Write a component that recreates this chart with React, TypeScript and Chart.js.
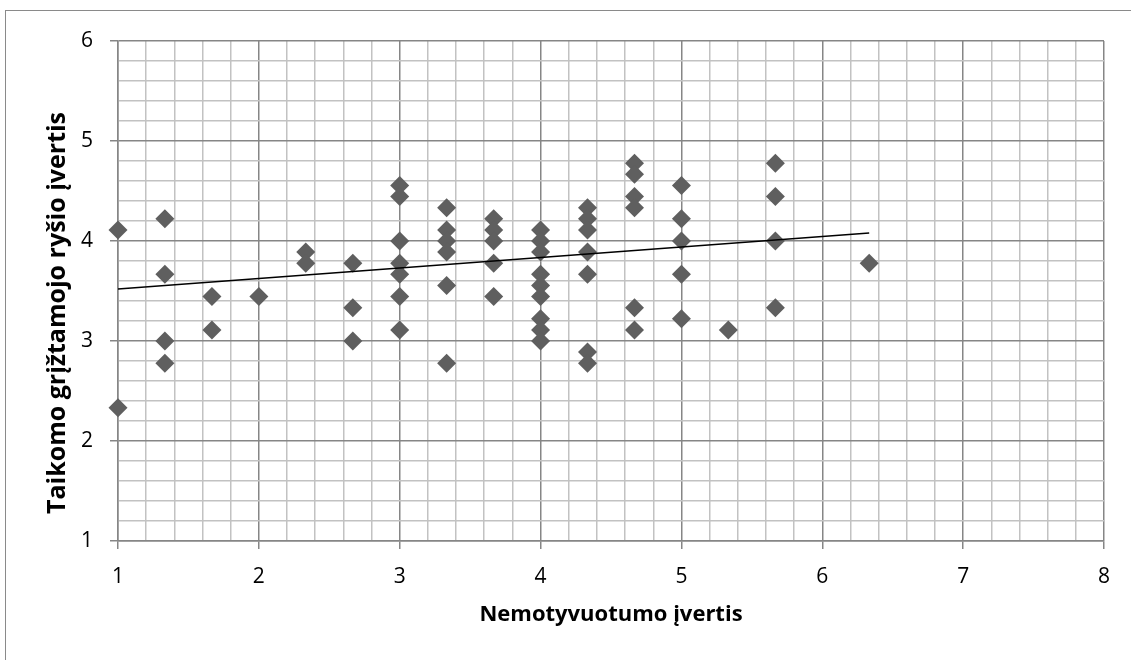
import React, { useEffect, useRef } from "react";
import { Chart, registerables } from "chart.js";

Chart.register(...registerables);

// Nemotyvuotumo įvertis (x) groups and the Taikomo grįžtamojo ryšio įvertis (y) values at each x
const xGroups = [1, 1.333, 1.667, 2, 2.333, 2.667, 3, 3.333, 3.667, 4, 4.333, 4.667, 5, 5.333, 5.667, 6.333];
const yByGroup = [
  [4.111, 2.333],
  [4.222, 3.667, 3.0, 2.778],
  [3.444, 3.111],
  [3.444],
  [3.889, 3.778],
  [3.778, 3.333, 3.0],
  [4.556, 4.444, 4.0, 3.778, 3.667, 3.444, 3.111],
  [4.333, 4.111, 4.0, 3.889, 3.556, 2.778],
  [4.222, 4.111, 4.0, 3.778, 3.444],
  [4.111, 4.0, 3.889, 3.667, 3.556, 3.444, 3.222, 3.111, 3.0],
  [4.333, 4.222, 4.111, 3.889, 3.667, 2.889, 2.778],
  [4.778, 4.667, 4.444, 4.333, 3.333, 3.111],
  [4.556, 4.222, 4.0, 3.667, 3.222],
  [3.111],
  [4.778, 4.444, 4.0, 3.333],
  [3.778],
];

// Linear trend line endpoints
const trendX = [1, 6.333];
const trendY = [3.52, 4.08];

// Axes
const xMin = 1, xMax = 8;
const yMin = 1, yMax = 6;
const gridStep = 0.2;

const X_TITLE = "Nemotyvuotumo įvertis";
const Y_TITLE = "Taikomo grįžtamojo ryšio įvertis";

const MAJOR = "#868686";
const MINOR = "#c2c2c2";
const FONT = "'Open Sans'";

const isMajor = (v: number) => Math.abs(v - Math.round(v)) < 1e-6;

const yTitlePlugin = {
  id: "yTitleCustom",
  afterDraw(chart: any) {
    const { ctx, chartArea } = chart;
    ctx.save();
    ctx.translate(chartArea.left - 53, (chartArea.top + chartArea.bottom) / 2 + 22);
    ctx.rotate(-Math.PI / 2);
    ctx.font = `bold 25px ${FONT}`;
    ctx.fillStyle = "#000";
    ctx.textAlign = "center";
    ctx.textBaseline = "alphabetic";
    ctx.fillText(Y_TITLE, 0, 0);
    ctx.restore();
  },
};

export default function App() {
  const ref = useRef<HTMLCanvasElement>(null);

  useEffect(() => {
    if (!ref.current) return;
    const points: { x: number; y: number }[] = [];
    xGroups.forEach((x, i) => yByGroup[i].forEach((y) => points.push({ x, y })));
    const trend = trendX.map((x, i) => ({ x, y: trendY[i] }));

    const gridOpts = {
      color: (c: any) => (c.tick && isMajor(c.tick.value) ? MAJOR : MINOR),
      tickColor: (c: any) => (c.tick && isMajor(c.tick.value) ? MAJOR : "rgba(0,0,0,0)"),
      lineWidth: 1.5,
      tickWidth: 1.5,
      tickLength: 8,
      drawTicks: true,
    };

    const chart = new Chart(ref.current, {
      type: "scatter",
      data: {
        datasets: [
          {
            type: "scatter",
            data: trend,
            showLine: true,
            borderColor: "#000",
            borderWidth: 1.6,
            pointRadius: 0,
            clip: false,
            order: 0,
          } as any,
          {
            type: "scatter",
            data: points,
            pointStyle: "rectRot",
            pointRadius: 9.5,
            backgroundColor: "#5f5f5f",
            borderWidth: 0,
            clip: false,
            order: 1,
          } as any,
        ],
      },
      options: {
        responsive: false,
        animation: false,
        events: [],
        layout: { padding: { left: 0, top: 41, right: 27, bottom: 0 } },
        plugins: { legend: { display: false }, tooltip: { enabled: false } },
        scales: {
          x: {
            type: "linear",
            min: xMin,
            max: xMax,
            grid: gridOpts as any,
            border: { display: true, color: MAJOR, width: 1.5 },
            ticks: {
              stepSize: gridStep,
              autoSkip: false,
              maxRotation: 0,
              padding: 15,
              color: "#000",
              font: { family: FONT, size: 21 },
              callback: (v: any) => (isMajor(Number(v)) ? String(Math.round(Number(v))) : ""),
            },
            title: {
              display: true,
              text: X_TITLE,
              color: "#000",
              font: { family: FONT, size: 22, weight: "bold" },
              padding: { top: 0, bottom: 32 },
            },
            afterFit: (s: any) => {
              s.height = 119;
            },
          },
          y: {
            type: "linear",
            min: yMin,
            max: yMax,
            grid: gridOpts as any,
            border: { display: true, color: MAJOR, width: 1.5 },
            ticks: {
              stepSize: gridStep,
              autoSkip: false,
              padding: 17,
              color: "#000",
              font: { family: FONT, size: 21 },
              callback: (v: any) => (isMajor(Number(v)) ? String(Math.round(Number(v))) : ""),
            },
            afterFit: (s: any) => {
              s.width = 118;
            },
          },
        },
      },
      plugins: [yTitlePlugin],
    });
    return () => chart.destroy();
  }, []);

  return (
    <div
      style={{
        position: "absolute",
        left: 0,
        top: 0,
        width: 1131,
        height: 660,
        overflow: "hidden",
        background: "#fff",
      }}
    >
      <div
        style={{
          position: "absolute",
          left: 5,
          top: 10,
          width: 1200,
          height: 700,
          borderTop: "1px solid #8a8a8a",
          borderLeft: "1px solid #8a8a8a",
        }}
      />
      <canvas
        ref={ref}
        width={1131}
        height={660}
        style={{ position: "absolute", left: 0, top: 0, display: "block" }}
      />
    </div>
  );
}
